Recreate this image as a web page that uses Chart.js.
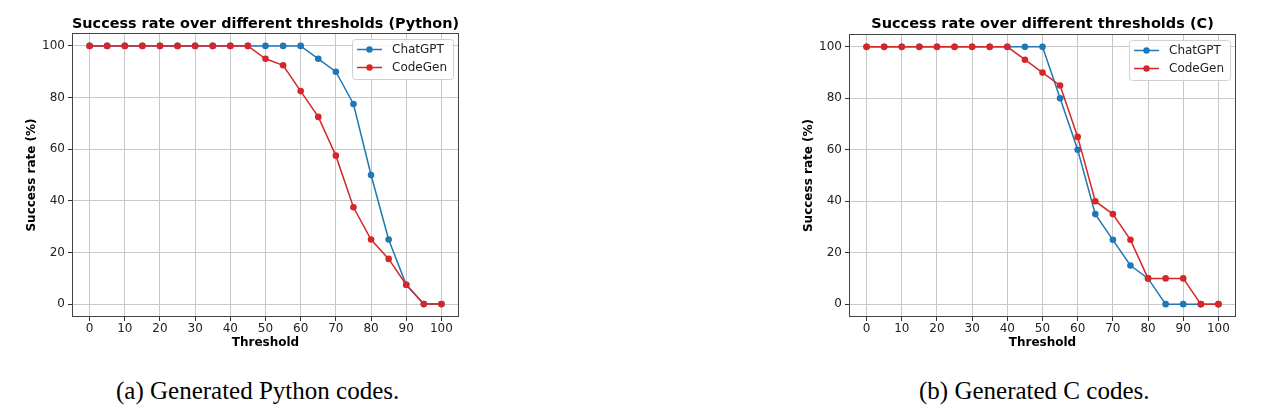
<!DOCTYPE html>
<html>
<head>
<meta charset="utf-8">
<script src="https://cdn.jsdelivr.net/npm/chart.js@4"></script>
<style>
  body { margin: 0; background: #fff; width: 1275px; height: 417px; position: relative; overflow: hidden; }
  .box { position: absolute; top: 0; height: 360px; }
  .cap { position: absolute; top: 377px; font-family: "Liberation Serif", "Times New Roman", serif; font-size: 25px; color: #000; white-space: nowrap; }
</style>
</head>
<body>
<div class="box" style="left:0;width:470px"><canvas id="pyChart" width="470" height="360"></canvas></div>
<div class="box" style="left:790px;width:460px"><canvas id="cChart" width="460" height="360"></canvas></div>
<span class="cap" style="left:116px">(a) Generated Python codes.</span>
<span class="cap" style="left:919px">(b) Generated C codes.</span>
<script>
const thresholds = [0, 5, 10, 15, 20, 25, 30, 35, 40, 45, 50, 55, 60, 65, 70, 75, 80, 85, 90, 95, 100];
const xTicks = [0, 10, 20, 30, 40, 50, 60, 70, 80, 90, 100];
const yTicks = [0, 20, 40, 60, 80, 100];

const pyChatGPT = [100, 100, 100, 100, 100, 100, 100, 100, 100, 100, 100, 100, 100, 95, 90, 77.5, 50, 25, 7.5, 0, 0];
const pyCodeGen = [100, 100, 100, 100, 100, 100, 100, 100, 100, 100, 95, 92.5, 82.5, 72.5, 57.5, 37.5, 25, 17.5, 7.5, 0, 0];
const cChatGPT = [100, 100, 100, 100, 100, 100, 100, 100, 100, 100, 100, 80, 60, 35, 25, 15, 10, 0, 0, 0, 0];
const cCodeGen = [100, 100, 100, 100, 100, 100, 100, 100, 100, 95, 90, 85, 65, 40, 35, 25, 10, 10, 10, 0, 0];

const BLUE = '#1f77b4';
const RED = '#d62728';
const FONT = "'DejaVu Sans', sans-serif";

// frame around the plot + matplotlib style legend in the upper right
const framePlugin = {
  id: 'frame',
  afterDatasetsDraw(chart) {
    const { ctx, chartArea: a } = chart;
    ctx.save();
    ctx.strokeStyle = '#444';
    ctx.lineWidth = 1;
    ctx.strokeRect(a.left + 0.5, a.top + 0.5, a.right - a.left - 1, a.bottom - a.top - 1);

    const w = 101, h = 40;
    const x0 = a.right - 6 - w, y0 = a.top + 6;
    ctx.fillStyle = 'rgba(255,255,255,0.85)';
    ctx.strokeStyle = '#d0d0d0';
    ctx.beginPath();
    ctx.roundRect(x0 + 0.5, y0 + 0.5, w, h, 3);
    ctx.fill();
    ctx.stroke();
    ctx.font = '12px ' + FONT;
    ctx.textBaseline = 'middle';
    chart.data.datasets.forEach((ds, i) => {
      const yy = y0 + 10.5 + i * 18;
      ctx.strokeStyle = ds.borderColor;
      ctx.lineWidth = 1.5;
      ctx.beginPath();
      ctx.moveTo(x0 + 5, yy);
      ctx.lineTo(x0 + 30, yy);
      ctx.stroke();
      ctx.fillStyle = ds.borderColor;
      ctx.beginPath();
      ctx.arc(x0 + 17.5, yy, 3.2, 0, Math.PI * 2);
      ctx.fill();
      ctx.fillStyle = '#222';
      ctx.fillText(ds.label, x0 + 40, yy);
    });
    ctx.restore();
  }
};

function makeChart(id, title, chatgpt, codegen, yWidth, rightPad, titlePad) {
  const pts = arr => thresholds.map((t, i) => ({ x: t, y: arr[i] }));
  return new Chart(document.getElementById(id), {
    type: 'line',
    data: {
      datasets: [
        { label: 'ChatGPT', data: pts(chatgpt), borderColor: BLUE, backgroundColor: BLUE,
          pointBackgroundColor: BLUE, borderWidth: 1.5, pointRadius: 3.3, pointBorderWidth: 0, order: 1 },
        { label: 'CodeGen', data: pts(codegen), borderColor: RED, backgroundColor: RED,
          pointBackgroundColor: RED, borderWidth: 1.5, pointRadius: 3.3, pointBorderWidth: 0, order: 0 }
      ]
    },
    options: {
      responsive: false,
      animation: false,
      layout: { padding: { left: 0, right: rightPad, top: 0, bottom: 0 } },
      plugins: {
        legend: { display: false },
        tooltip: { enabled: false },
        title: {
          display: true, text: title, fullSize: false, color: '#000',
          font: { family: FONT, size: 14.5, weight: 'bold' },
          padding: { top: 15.3, bottom: titlePad }
        }
      },
      scales: {
        x: {
          type: 'linear', min: -5, max: 105,
          afterBuildTicks: s => { s.ticks = xTicks.map(v => ({ value: v })); },
          afterFit: s => { s.height = 43; },
          grid: { color: '#c8c8c8', tickColor: '#333', tickLength: 4 },
          border: { display: false },
          ticks: { color: '#222', padding: 1, font: { family: FONT, size: 12 } },
          title: { display: true, text: 'Threshold', color: '#000',
                   font: { family: FONT, size: 12, weight: 'bold' }, padding: { top: 0, bottom: 10 } }
        },
        y: {
          type: 'linear', min: -5, max: 105,
          afterBuildTicks: s => { s.ticks = yTicks.map(v => ({ value: v })); },
          afterFit: s => { s.width = yWidth; },
          grid: { color: '#c8c8c8', tickColor: '#333', tickLength: 4 },
          border: { display: false },
          ticks: { color: '#222', padding: 3, font: { family: FONT, size: 12 } },
          title: { display: true, text: 'Success rate (%)', color: '#000',
                   font: { family: FONT, size: 12, weight: 'bold' }, padding: { top: yWidth - 47, bottom: 0 } }
        }
      }
    },
    plugins: [framePlugin]
  });
}

makeChart('pyChart', 'Success rate over different thresholds (Python)', pyChatGPT, pyCodeGen, 72, 11, 0.3);
makeChart('cChart', 'Success rate over different thresholds (C)', cChatGPT, cCodeGen, 59, 14, 1.3);
</script>
</body>
</html>
